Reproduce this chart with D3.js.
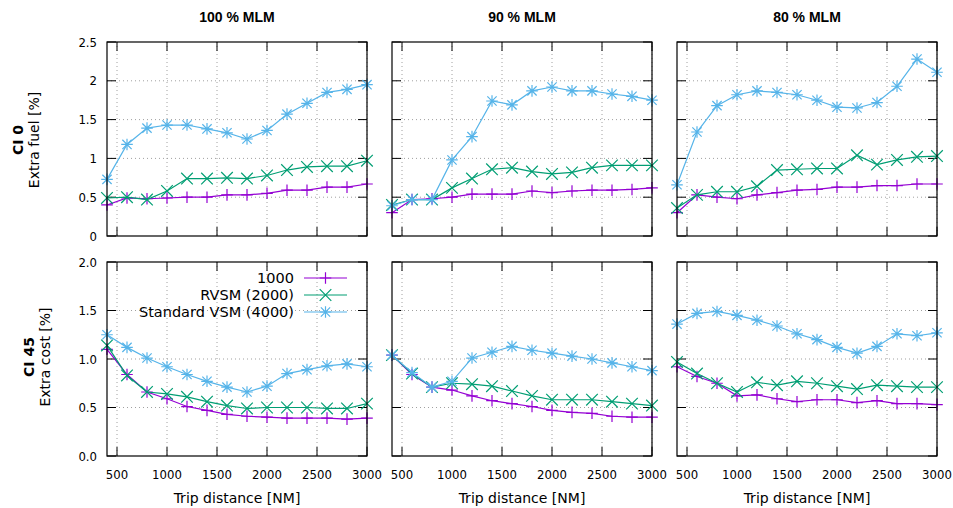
<!DOCTYPE html>
<html>
<head>
<meta charset="utf-8">
<script src="https://cdn.jsdelivr.net/npm/d3@7"></script>
<style>
  html, body { margin: 0; padding: 0; background: #fff; }
  svg { display: block; }
  .tick-label { font-family: "DejaVu Sans", sans-serif; font-stretch: condensed; font-size: 13px; fill: #000; }
</style>
</head>
<body>
<svg id="chart" width="953" height="508"></svg>
<script>
// ── Data ───────────────────────────────────────────────────
const distances = [400, 600, 800, 1000, 1200, 1400, 1600, 1800, 2000, 2200, 2400, 2600, 2800, 3000];
const columns = ['100 % MLM', '90 % MLM', '80 % MLM'];
const seriesNames = ['1000', 'RVSM (2000)', 'Standard VSM (4000)'];
const xTicks = [500, 1000, 1500, 2000, 2500, 3000];
const yTicksTop = [0, 0.5, 1, 1.5, 2, 2.5];
const yTicksBottom = [0, 0.5, 1.0, 1.5, 2.0];

// CI 0, extra fuel [%]
const fuel100_1000 = [0.40, 0.49, 0.48, 0.49, 0.50, 0.50, 0.53, 0.53, 0.55, 0.59, 0.59, 0.63, 0.63, 0.67];
const fuel100_rvsm = [0.49, 0.50, 0.47, 0.58, 0.74, 0.74, 0.75, 0.74, 0.78, 0.85, 0.89, 0.90, 0.90, 0.97];
const fuel100_std  = [0.73, 1.18, 1.39, 1.43, 1.43, 1.38, 1.33, 1.25, 1.36, 1.57, 1.71, 1.85, 1.89, 1.95];
const fuel90_1000  = [0.30, 0.47, 0.48, 0.50, 0.54, 0.54, 0.54, 0.58, 0.56, 0.58, 0.59, 0.59, 0.60, 0.62];
const fuel90_rvsm  = [0.40, 0.47, 0.47, 0.62, 0.74, 0.86, 0.88, 0.83, 0.80, 0.82, 0.88, 0.91, 0.91, 0.91];
const fuel90_std   = [0.39, 0.47, 0.47, 0.98, 1.28, 1.74, 1.69, 1.87, 1.92, 1.87, 1.87, 1.83, 1.80, 1.75];
const fuel80_1000  = [0.30, 0.53, 0.50, 0.48, 0.53, 0.56, 0.59, 0.60, 0.63, 0.63, 0.65, 0.65, 0.67, 0.67];
const fuel80_rvsm  = [0.36, 0.53, 0.57, 0.57, 0.64, 0.85, 0.86, 0.87, 0.87, 1.04, 0.92, 0.98, 1.02, 1.03];
const fuel80_std   = [0.66, 1.34, 1.68, 1.82, 1.87, 1.85, 1.82, 1.75, 1.66, 1.65, 1.72, 1.93, 2.28, 2.11];

// CI 45, extra cost [%]
const cost100_1000 = [1.10, 0.84, 0.66, 0.59, 0.51, 0.47, 0.43, 0.41, 0.40, 0.39, 0.39, 0.39, 0.38, 0.39];
const cost100_rvsm = [1.14, 0.83, 0.66, 0.64, 0.61, 0.56, 0.52, 0.49, 0.50, 0.50, 0.50, 0.49, 0.49, 0.54];
const cost100_std  = [1.25, 1.12, 1.01, 0.92, 0.84, 0.77, 0.71, 0.66, 0.72, 0.85, 0.89, 0.93, 0.95, 0.92];
const cost90_1000  = [1.04, 0.84, 0.71, 0.68, 0.62, 0.57, 0.54, 0.51, 0.47, 0.45, 0.44, 0.41, 0.40, 0.40];
const cost90_rvsm  = [1.04, 0.85, 0.71, 0.75, 0.74, 0.72, 0.67, 0.62, 0.58, 0.58, 0.58, 0.56, 0.54, 0.52];
const cost90_std   = [1.04, 0.86, 0.71, 0.77, 1.01, 1.07, 1.13, 1.09, 1.06, 1.03, 1.00, 0.96, 0.92, 0.88];
const cost80_1000  = [0.92, 0.82, 0.75, 0.62, 0.63, 0.59, 0.56, 0.58, 0.58, 0.55, 0.57, 0.54, 0.54, 0.53];
const cost80_rvsm  = [0.97, 0.85, 0.75, 0.66, 0.76, 0.73, 0.77, 0.75, 0.72, 0.69, 0.73, 0.72, 0.71, 0.71];
const cost80_std   = [1.36, 1.47, 1.49, 1.45, 1.40, 1.34, 1.26, 1.20, 1.12, 1.06, 1.13, 1.26, 1.24, 1.27];

const panels = [
  [[fuel100_1000, fuel100_rvsm, fuel100_std], [fuel90_1000, fuel90_rvsm, fuel90_std], [fuel80_1000, fuel80_rvsm, fuel80_std]],
  [[cost100_1000, cost100_rvsm, cost100_std], [cost90_1000, cost90_rvsm, cost90_std], [cost80_1000, cost80_rvsm, cost80_std]]
];

// ── Layout ─────────────────────────────────────────────────
const colLeft = [107, 392, 677];
const rowTop = [42, 262];
const pw = 260, ph = 194;
const colors = ['#9400d3', '#009e73', '#56b4e9'];
const rows = [
  { title: 'CI 0', label: 'Extra fuel [%]', domain: [0, 2.5], ticks: yTicksTop, fmt: d3.format('~g'), lx: 18, ly: 140 },
  { title: 'CI 45', label: 'Extra cost [%]', domain: [0, 2.0], ticks: yTicksBottom, fmt: d3.format('.1f'), lx: 29, ly: 357 }
];

const svg = d3.select('#chart');

// marker shapes (gnuplot pt 1, 2, 3)
function marker(g, type, x, y, color) {
  const s = 5.8;
  const p = d3.path();
  if (type === 0 || type === 2) {
    p.moveTo(x - s, y); p.lineTo(x + s, y);
    p.moveTo(x, y - s); p.lineTo(x, y + s);
  }
  if (type === 1 || type === 2) {
    const c = type === 1 ? s : s * 0.8;
    p.moveTo(x - c, y - c); p.lineTo(x + c, y + c);
    p.moveTo(x - c, y + c); p.lineTo(x + c, y - c);
  }
  g.append('path').attr('d', p.toString())
    .attr('stroke', color).attr('stroke-width', 1.2).attr('fill', 'none');
}

rows.forEach((row, ri) => {
  const y = d3.scaleLinear().domain(row.domain).range([rowTop[ri] + ph, rowTop[ri]]);

  columns.forEach((colName, ci) => {
    const x = d3.scaleLinear().domain([400, 3000]).range([colLeft[ci], colLeft[ci] + pw]);
    const g = svg.append('g');

    // grid
    g.selectAll('.gx').data(xTicks).enter().append('line')
      .attr('x1', d => x(d)).attr('x2', d => x(d))
      .attr('y1', rowTop[ri]).attr('y2', rowTop[ri] + ph)
      .attr('stroke', '#a0a0a0').attr('stroke-width', 1).attr('stroke-dasharray', '1,3');
    g.selectAll('.gy').data(row.ticks.slice(1, -1)).enter().append('line')
      .attr('x1', colLeft[ci]).attr('x2', colLeft[ci] + pw)
      .attr('y1', d => y(d)).attr('y2', d => y(d))
      .attr('stroke', '#a0a0a0').attr('stroke-width', 1).attr('stroke-dasharray', '1,3');

    // ticks (inward, mirrored)
    const tl = 9;
    xTicks.forEach(t => {
      g.append('line').attr('x1', x(t)).attr('x2', x(t))
        .attr('y1', rowTop[ri] + ph).attr('y2', rowTop[ri] + ph - tl).attr('stroke', '#000');
      g.append('line').attr('x1', x(t)).attr('x2', x(t))
        .attr('y1', rowTop[ri]).attr('y2', rowTop[ri] + tl).attr('stroke', '#000');
    });
    row.ticks.forEach(t => {
      g.append('line').attr('x1', colLeft[ci]).attr('x2', colLeft[ci] + tl)
        .attr('y1', y(t)).attr('y2', y(t)).attr('stroke', '#000');
      g.append('line').attr('x1', colLeft[ci] + pw).attr('x2', colLeft[ci] + pw - tl)
        .attr('y1', y(t)).attr('y2', y(t)).attr('stroke', '#000');
    });

    // series
    panels[ri][ci].forEach((vals, si) => {
      const line = d3.line().x((d, i) => x(distances[i])).y(d => y(d));
      g.append('path').datum(vals).attr('d', line)
        .attr('fill', 'none').attr('stroke', colors[si]).attr('stroke-width', 1.2);
      vals.forEach((v, i) => marker(g, si, x(distances[i]), y(v), colors[si]));
    });

    // frame
    g.append('rect').attr('x', colLeft[ci]).attr('y', rowTop[ri])
      .attr('width', pw).attr('height', ph)
      .attr('fill', 'none').attr('stroke', '#000').attr('stroke-width', 1.2);

    // y tick labels on first column
    if (ci === 0) {
      row.ticks.forEach(t => {
        svg.append('text').attr('class', 'tick-label')
          .attr('x', colLeft[0] - 10).attr('y', y(t) + 4.5)
          .attr('text-anchor', 'end').text(row.fmt(t));
      });
    }

    // x tick labels + axis label on bottom row
    if (ri === 1) {
      xTicks.forEach(t => {
        svg.append('text').attr('class', 'tick-label')
          .attr('x', x(t)).attr('y', 479)
          .attr('text-anchor', 'middle').text(t);
      });
      svg.append('text')
        .attr('x', colLeft[ci] + pw / 2).attr('y', 503)
        .attr('text-anchor', 'middle')
        .attr('font-family', 'DejaVu Sans, sans-serif').attr('font-size', 14)
        .text('Trip distance [NM]');
    }

    // column titles
    if (ri === 0) {
      svg.append('text')
        .attr('x', colLeft[ci] + pw / 2).attr('y', 22)
        .attr('text-anchor', 'middle')
        .attr('font-family', '"Liberation Sans Narrow", "Liberation Sans", Arial, sans-serif')
        .attr('font-weight', 'bold').attr('font-size', 14)
        .text(colName);
    }
  });

  // row labels
  const lab = svg.append('text')
    .attr('transform', `translate(${row.lx + 5},${row.ly}) rotate(-90)`)
    .attr('text-anchor', 'middle')
    .attr('font-family', 'DejaVu Sans, sans-serif').attr('font-size', 14);
  lab.append('tspan').attr('x', 0).attr('dy', 0).attr('font-weight', 'bold').text(row.title);
  lab.append('tspan').attr('x', 0).attr('dy', 16).text(row.label);
});

// ── Legend (bottom-left panel) ─────────────────────────────
const legend = svg.append('g');
seriesNames.forEach((name, si) => {
  const ly = 278 + si * 17;
  legend.append('text')
    .attr('x', 294).attr('y', ly + 5)
    .attr('text-anchor', 'end')
    .attr('font-family', 'DejaVu Sans, sans-serif').attr('font-size', 14.5)
    .text(name);
  legend.append('line').attr('x1', 304).attr('x2', 347).attr('y1', ly).attr('y2', ly)
    .attr('stroke', colors[si]).attr('stroke-width', 1.2);
  marker(legend, si, 325.5, ly, colors[si]);
});
</script>
</body>
</html>
